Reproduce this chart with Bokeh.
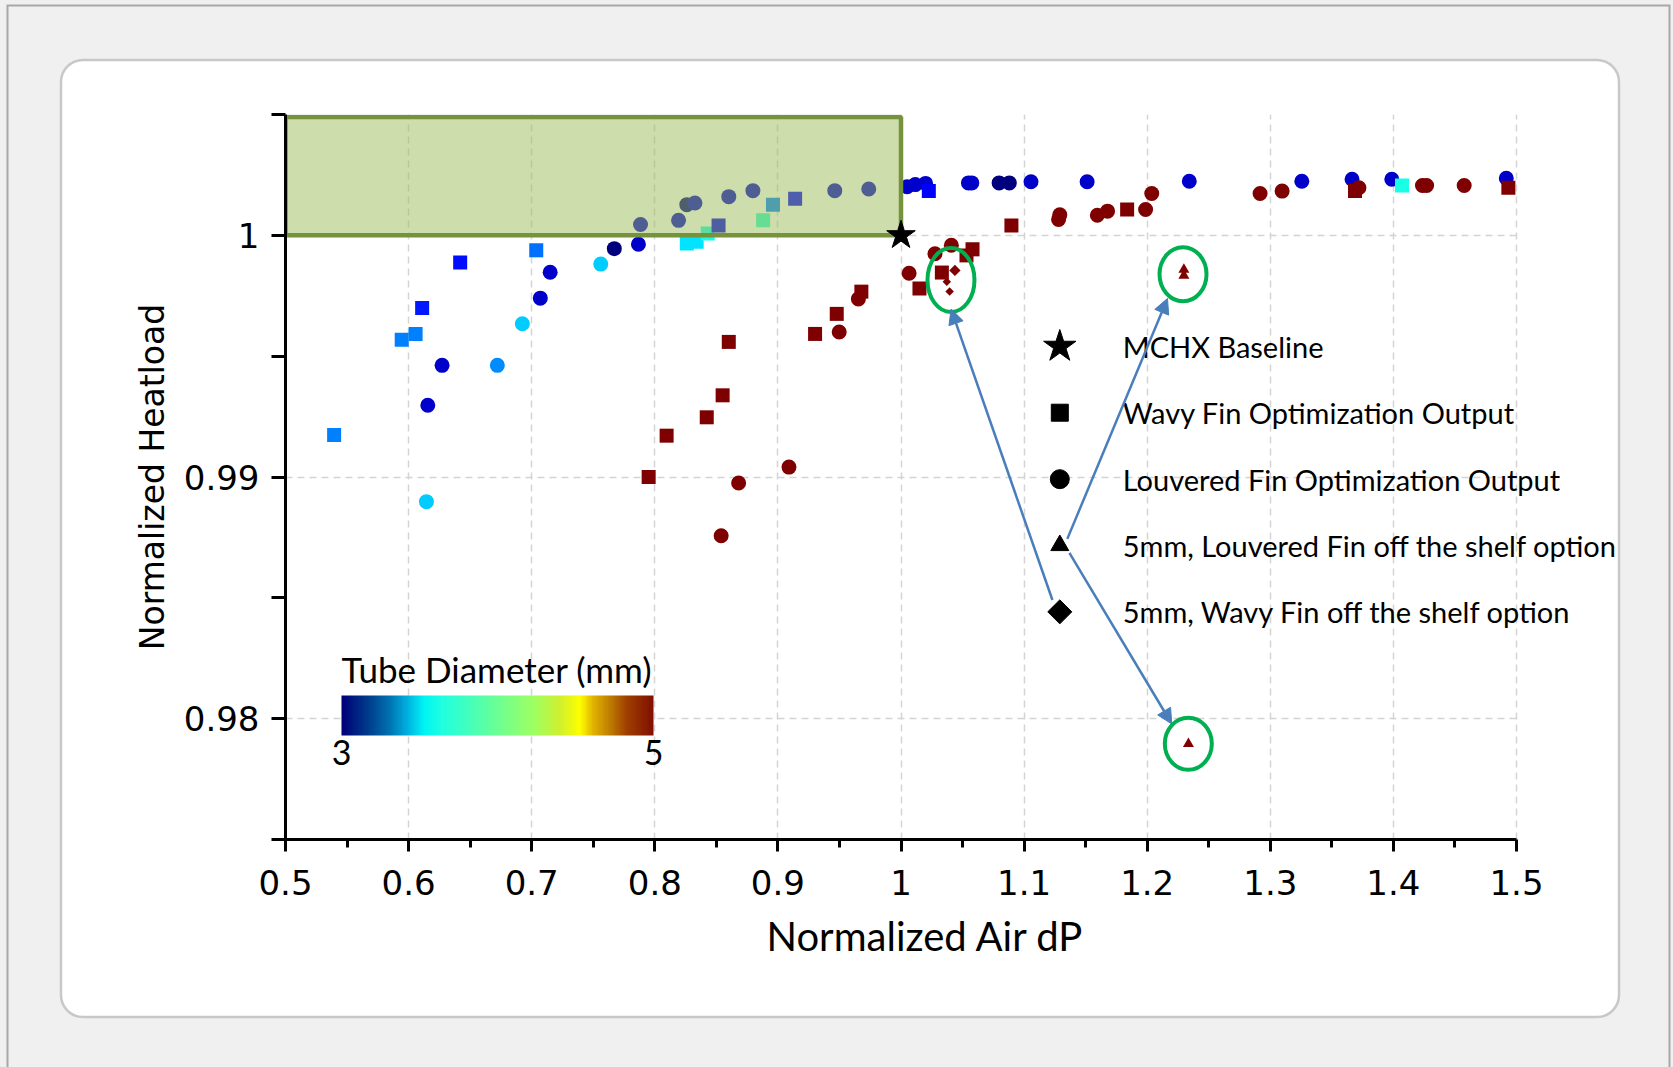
import numpy as np
from urllib.parse import quote
from bokeh.plotting import figure
from bokeh.models import (ColorBar, LinearColorMapper, FixedTicker, Title,
                          CustomJSTickFormatter, Label, Arrow, NormalHead)
from bokeh.transform import linear_cmap
from bokeh.embed import file_html
from bokeh.resources import INLINE

# ---------------- data ----------------
# Louvered fin optimization output: normalized air dP, normalized heatload, tube diameter (mm)
louvered_dp = [0.6272, 0.6156, 0.6721, 0.6145, 0.6924, 0.7070, 0.7150, 0.7561, 0.7671, 0.7867,
               0.7884, 0.8193, 0.8260, 0.8326, 0.8601, 0.8797, 0.9462, 0.9738,
               1.0050, 1.0116, 1.0200, 1.0548, 1.0575, 1.0797, 1.0880, 1.1056, 1.1512, 1.2342,
               1.3256, 1.3664, 1.3987, 1.4917,
               0.8539, 0.8681, 0.9090, 0.9498, 0.9654, 1.0066, 1.0276, 1.0409, 1.1280, 1.1290,
               1.1595, 1.1678, 1.1987, 1.2037, 1.2917, 1.3096, 1.3720, 1.4236, 1.4270, 1.4575]
louvered_hl = [0.99462, 0.99297, 0.99462, 0.98898, 0.99634, 0.99740, 0.99847, 0.99881, 0.99945, 0.99963,
               1.00045, 1.00062, 1.00127, 1.00134, 1.00160, 1.00185, 1.00185, 1.00192,
               1.00201, 1.00210, 1.00215, 1.00217, 1.00217, 1.00217, 1.00217, 1.00222, 1.00222, 1.00224,
               1.00224, 1.00232, 1.00232, 1.00236,
               0.98757, 0.98975, 0.99041, 0.99600, 0.99737, 0.99843, 0.99924, 0.99959, 1.00066, 1.00085,
               1.00083, 1.00100, 1.00107, 1.00173, 1.00173, 1.00183, 1.00197, 1.00206, 1.00206, 1.00206]
louvered_dia = [3.15, 3.15, 3.53, 3.65, 3.65, 3.15, 3.15, 3.65, 3.0, 3.15,
                3.15, 3.15, 3.0, 3.15, 3.15, 3.15, 3.15, 3.15,
                3.15, 3.15, 3.15, 3.15, 3.15, 3.0, 3.0, 3.15, 3.15, 3.15,
                3.15, 3.15, 3.15, 3.15,
                5.0, 5.0, 5.0, 5.0, 5.0, 5.0, 5.0, 5.0, 5.0, 5.0,
                5.0, 5.0, 5.0, 5.0, 5.0, 5.0, 5.0, 5.0, 5.0, 5.0]

# Wavy fin optimization output
wavy_dp = [0.5395, 0.5944, 0.6057, 0.6110, 0.6419, 0.7037, 0.8260, 0.8340, 0.8430, 0.8518,
           0.8880, 0.8960, 0.9140, 1.0226, 1.4070,
           0.7950, 0.8096, 0.8422, 0.8551, 0.8601, 0.9302, 0.9478, 0.9678, 1.0150, 1.0332,
           1.0532, 1.0581, 1.0897, 1.1837, 1.3688, 1.4934]
wavy_hl = [0.99174, 0.99568, 0.99592, 0.99699, 0.99888, 0.99938, 0.99966, 0.99973, 1.00008, 1.00041,
           1.00062, 1.00127, 1.00151, 1.00183, 1.00206,
           0.99000, 0.99171, 0.99247, 0.99338, 0.99559, 0.99592, 0.99675, 0.99767, 0.99780, 0.99846,
           0.99917, 0.99942, 1.00041, 1.00107, 1.00183, 1.00197]
wavy_dia = [3.5, 3.5, 3.5, 3.3, 3.28, 3.47, 3.7, 3.7, 3.8, 3.2,
            3.85, 3.5, 3.25, 3.25, 3.8,
            5.0, 5.0, 5.0, 5.0, 5.0, 5.0, 5.0, 5.0, 5.0, 5.0,
            5.0, 5.0, 5.0, 5.0, 5.0, 5.0]

# 5 mm off-the-shelf options
louvered_shelf_dp = [1.2298, 1.2298, 1.2335]
louvered_shelf_hl = [0.99858, 0.99834, 0.97896]
wavy_shelf_dp = [1.0438, 1.0372, 1.0395]
wavy_shelf_hl = [0.99855, 0.99808, 0.99768]
shelf_dia = 5.0

# MCHX baseline
baseline_dp = [1.0]
baseline_hl = [1.0]

# target region: lower air dP and higher heatload than the baseline
target_dp = (0.5, 1.0)
target_hl = (1.0, 1.0049)

x_major = [0.5, 0.6, 0.7, 0.8, 0.9, 1.0, 1.1, 1.2, 1.3, 1.4, 1.5]
x_minor = [0.55, 0.65, 0.75, 0.85, 0.95, 1.05, 1.15, 1.25, 1.35, 1.45]
y_major = [0.98, 0.99, 1.0]
y_minor = [0.975, 0.985, 0.995, 1.005]

legend_labels = ["MCHX Baseline", "Wavy Fin Optimization Output", "Louvered Fin Optimization Output",
                 "5mm, Louvered Fin off the shelf option", "5mm, Wavy Fin off the shelf option"]
legend_markers = ["star", "square", "circle", "triangle", "square"]


# ---------------- colour maps ----------------
def jet(n=256):
    t = np.linspace(0, 1, n)
    r = np.clip(1.5 - np.abs(4 * t - 3), 0, 1)
    g = np.clip(1.5 - np.abs(4 * t - 2), 0, 1)
    b = np.clip(1.5 - np.abs(4 * t - 1), 0, 1)
    return ["#%02x%02x%02x" % (int(a * 255), int(c * 255), int(d * 255)) for a, c, d in zip(r, g, b)]


def blend(stops, n=256):
    pos = np.array([s[0] for s in stops])
    rgb = np.array([[int(s[1][i:i + 2], 16) for i in (1, 3, 5)] for s in stops], dtype=float)
    t = np.linspace(0, 1, n)
    chans = [np.interp(t, pos, rgb[:, k]) for k in range(3)]
    return ["#%02x%02x%02x" % (int(a), int(c), int(d)) for a, c, d in zip(*chans)]


point_palette = jet()
bar_palette = blend([(0.0, "#00007a"), (0.08, "#003a8a"), (0.15, "#0070b0"), (0.21, "#00b0e0"),
                     (0.264, "#00f5f5"), (0.32, "#20ffe0"), (0.40, "#40ffc0"), (0.51, "#70ff90"),
                     (0.62, "#a0ff60"), (0.70, "#d0f030"), (0.765, "#ffff00"), (0.81, "#e0b000"),
                     (0.86, "#c08000"), (0.915, "#a04000"), (1.0, "#801000")])

# ---------------- page chrome (grey page, rounded white card) ----------------
W, H = 1673, 1067
chrome = (f"<svg xmlns='http://www.w3.org/2000/svg' width='{W}' height='{H}'>"
          f"<rect x='0' y='0' width='{W}' height='{H}' fill='#f0f0f0'/>"
          "<rect x='7.5' y='5.5' width='1662' height='1100' fill='none' stroke='#a8a8a8' stroke-width='2'/>"
          "<rect x='61' y='60' width='1558' height='957' rx='22' ry='22' fill='#ffffff' "
          "stroke='#c8c8c8' stroke-width='2.5'/></svg>")
page_style = {"background-image": f'url("data:image/svg+xml,{quote(chrome)}")',
              "background-repeat": "no-repeat"}

# ---------------- figure ----------------
FRAME_L, FRAME_T, FRAME_B = 285, 114, 839
X_PX = 1231.0                      # pixels per unit of air dP
x_end = 0.5 + (W - FRAME_L) / X_PX  # frame runs to the right edge so the legend text is not cut

p = figure(width=W, height=H, x_range=(0.5, x_end), y_range=(0.975, 1.005),
           output_backend="svg", toolbar_location=None,
           min_border_left=FRAME_L, min_border_right=0, min_border_top=FRAME_T,
           min_border_bottom=H - FRAME_B,
           border_fill_color=None, background_fill_color=None, outline_line_color=None,
           styles=page_style)

# axes
for ax in (p.xaxis[0], p.yaxis[0]):
    ax.axis_line_width = 3
    ax.axis_line_color = "black"
    ax.major_tick_line_width = 3
    ax.minor_tick_line_width = 3
    ax.major_tick_in = 0
    ax.minor_tick_in = 0
    ax.major_label_text_font = "DejaVu Sans"
    ax.major_label_text_font_size = "34px"
    ax.major_label_text_color = "black"
    ax.axis_label_text_font_style = "normal"
    ax.axis_label_text_color = "black"

p.xaxis.bounds = (0.5, 1.5)
p.xaxis.ticker = FixedTicker(ticks=x_major, minor_ticks=x_minor)
p.xaxis.major_tick_out = 12
p.xaxis.minor_tick_out = 8
p.xaxis.major_label_standoff = 18
p.xaxis.formatter = CustomJSTickFormatter(code="return String(Math.round(tick * 100) / 100);")

# x-axis title placed under the 0.5 - 1.5 span (the frame itself extends further right)
x_title = Title(text="Normalized Air dP", align="left", offset=481,
                text_font="Lato", text_font_size="40px", text_font_style="normal", text_color="black")
try:
    x_title.standoff = 25
except AttributeError:
    pass
p.add_layout(x_title, "below")

p.yaxis.ticker = FixedTicker(ticks=y_major, minor_ticks=y_minor)
p.yaxis.major_tick_out = 14
p.yaxis.minor_tick_out = 14
p.yaxis.major_label_standoff = 12
p.yaxis.formatter = CustomJSTickFormatter(code="return String(Math.round(tick * 1000) / 1000);")
p.yaxis.axis_label = "Normalized Heatload"
p.yaxis.axis_label_text_font = "DejaVu Sans"
p.yaxis.axis_label_text_font_size = "33px"
p.yaxis.axis_label_standoff = 9

p.xgrid.ticker = FixedTicker(ticks=x_major[1:])
p.ygrid.ticker = FixedTicker(ticks=y_major)
grid_style = dict(line_color="#d4d4d4", line_width=1.5, line_dash="7 5")
for g in (p.xgrid[0], p.ygrid[0]):
    g.grid_line_color = grid_style["line_color"]
    g.grid_line_width = grid_style["line_width"]
    g.grid_line_dash = grid_style["line_dash"]
try:
    p.ygrid[0].cross_bounds = (0.5, 1.5)
except AttributeError:
    p.ygrid[0].visible = False
    p.segment(x0=[0.5] * len(y_major), x1=[1.5] * len(y_major), y0=y_major, y1=y_major,
              level="underlay", **grid_style)

# ---------------- points ----------------
cmap_l = linear_cmap("dia", point_palette, 3, 5)
p.scatter(x="dp", y="hl", source=dict(dp=louvered_dp, hl=louvered_hl, dia=louvered_dia),
          marker="circle", size=15, fill_color=cmap_l, line_color=None)
p.scatter(x="dp", y="hl", source=dict(dp=wavy_dp, hl=wavy_hl, dia=wavy_dia),
          marker="square", size=14, fill_color=cmap_l, line_color=None)
p.scatter(x="dp", y="hl", source=dict(dp=louvered_shelf_dp, hl=louvered_shelf_hl,
                                      dia=[shelf_dia] * len(louvered_shelf_dp)),
          marker="triangle", size=11, fill_color=cmap_l, line_color=None)
p.scatter(x="dp", y="hl", source=dict(dp=wavy_shelf_dp, hl=wavy_shelf_hl,
                                      dia=[shelf_dia] * len(wavy_shelf_dp), sz=[8, 6, 6]),
          marker="square", angle=np.pi / 4, size="sz", fill_color=cmap_l, line_color=None)

# target region (semi-transparent, drawn over the points)
p.quad(left=[target_dp[0]], right=[target_dp[1]], bottom=[target_hl[0]], top=[target_hl[1]],
       fill_color="#9bbb59", fill_alpha=0.5, line_color="#76923c", line_width=4.5)

p.scatter(x=baseline_dp, y=baseline_hl, marker="star", size=30, fill_color="black", line_color="black")

# highlight rings around the off-the-shelf options
ring_x = [1.0406, 1.2291, 1.2334]
ring_y = [0.99815, 0.99839, 0.97896]
p.ellipse(x=ring_x, y=ring_y, width=[47, 47, 47], height=[64, 54, 52],
          width_units="screen", height_units="screen",
          fill_color=None, line_color="#00b050", line_width=4)

# ---------------- legend ----------------
leg_x, txt_x = 1.129, 1.1801
leg_y = [0.99540, 0.99266, 0.98991, 0.98717, 0.98442]
leg_size = [34, 17, 19, 18, 17]
leg_angle = [0, 0, 0, 0, np.pi / 4]
for yy, mk, sz, an in zip(leg_y, legend_markers, leg_size, leg_angle):
    p.scatter(x=[leg_x], y=[yy], marker=mk, size=sz, angle=an, fill_color="black", line_color="black")
for yy, txt in zip(leg_y, legend_labels):
    p.add_layout(Label(x=txt_x, y=yy, text=txt, text_font="Lato", text_font_size="29px",
                       text_baseline="middle", text_color="black"))

# arrows from legend entries to the highlighted options
arrow_head = dict(size=15, fill_color="#4a7ebb", line_color="#4a7ebb")
for xs, ys, xe, ye in [(1.1230, 0.98491, 1.0407, 0.99695),
                       (1.1351, 0.98744, 1.2165, 0.99739),
                       (1.1368, 0.98686, 1.2200, 0.97978)]:
    p.add_layout(Arrow(x_start=xs, y_start=ys, x_end=xe, y_end=ye, line_color="#4a7ebb",
                       line_width=2.5, end=NormalHead(**arrow_head)))

# ---------------- colour bar ----------------
cbar = ColorBar(color_mapper=LinearColorMapper(palette=bar_palette, low=3, high=5),
                orientation="horizontal", width=312, height=40, location=(56, 72), padding=0,
                title="Tube Diameter (mm)", title_text_font="Lato", title_text_font_size="35px",
                title_text_font_style="normal", title_text_color="black", title_standoff=11,
                ticker=FixedTicker(ticks=[3, 5]),
                formatter=CustomJSTickFormatter(code="return String(tick);"),
                major_label_text_font="Lato", major_label_text_font_size="34px",
                major_label_text_color="black", label_standoff=4,
                major_tick_line_color=None, minor_tick_line_color=None, bar_line_color=None,
                background_fill_color=None, border_line_color=None)
p.add_layout(cbar)

open("out.html", "w").write(file_html(p, INLINE))
